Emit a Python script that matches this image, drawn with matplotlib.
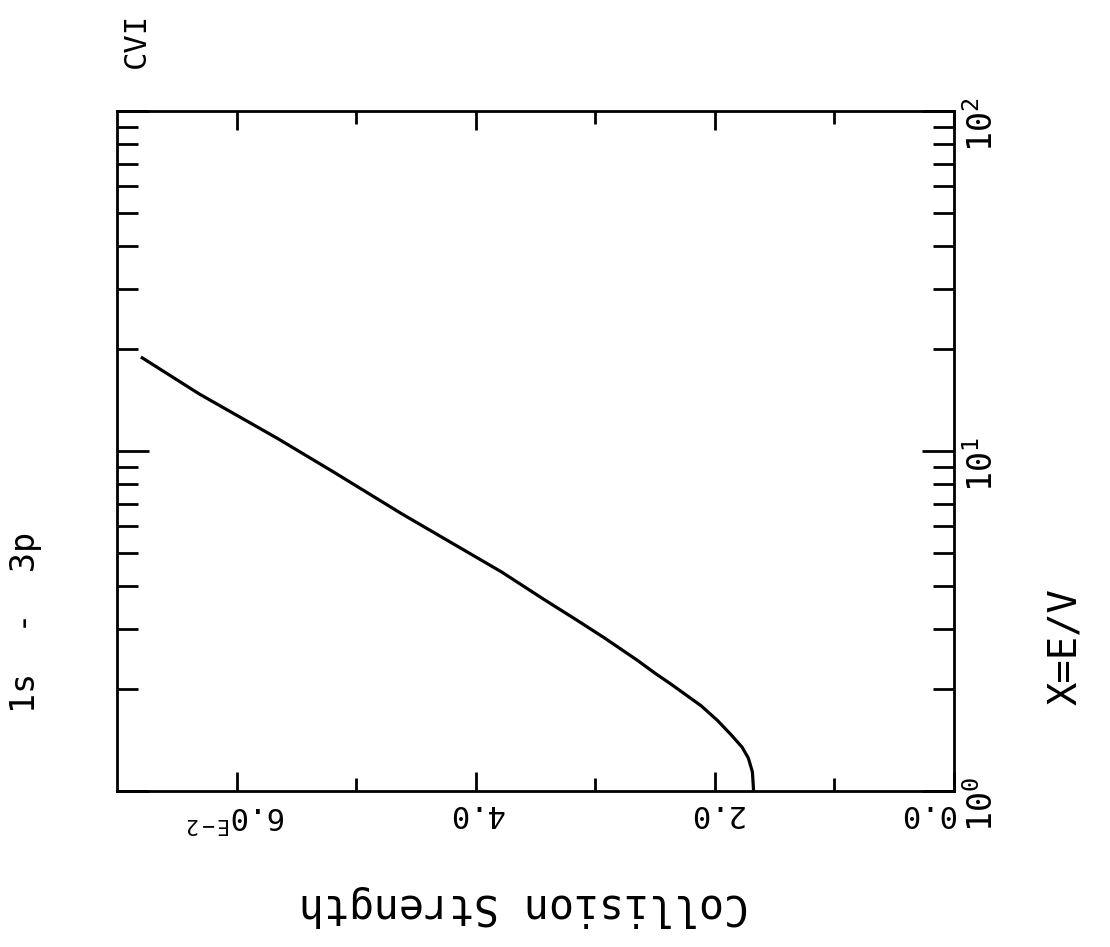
import matplotlib
matplotlib.use("Agg")
import matplotlib.pyplot as plt
from matplotlib.ticker import FixedLocator, NullFormatter

# Collision strength (units of 1e-2) versus X = E/V for C VI 1s - 3p
x_energy = [1.00, 1.138, 1.25, 1.345, 1.458, 1.61, 1.78, 2.06, 2.22, 2.43,
            2.83, 3.19, 3.68, 4.40, 6.54, 8.68, 10.9, 14.7, 18.9]
omega_e2 = [1.676, 1.686, 1.72, 1.772, 1.86, 1.976, 2.114, 2.365, 2.50, 2.653,
            2.93, 3.16, 3.44, 3.78, 4.62, 5.19, 5.66, 6.31, 6.80]

omega_major = [0.0, 2.0, 4.0, 6.0]
omega_minor = [1.0, 3.0, 5.0]
omega_labels = ["0.0", "2.0", "4.0", r"6.0$^{\mathrm{E-2}}$"]

x_major = [1, 10, 100]
x_minor = [2, 3, 4, 5, 6, 7, 8, 9, 20, 30, 40, 50, 60, 70, 80, 90]
x_labels = [r"$10^{0}$", r"$10^{1}$", r"$10^{2}$"]

FONT = "DejaVu Sans Mono"
plt.rcParams["font.family"] = FONT
plt.rcParams["mathtext.fontset"] = "custom"
plt.rcParams["mathtext.rm"] = FONT
plt.rcParams["mathtext.it"] = FONT
plt.rcParams["mathtext.bf"] = FONT

W, H, DPI = 1110, 947, 100
fig = plt.figure(figsize=(W / DPI, H / DPI), dpi=DPI)

# axes box in pixels (the plot is drawn turned a quarter turn: X runs upward)
L, R, T, B = 117, 954, 111, 791
ax = fig.add_axes([L / W, 1 - B / H, (R - L) / W, (B - T) / H])

ax.plot(omega_e2, x_energy, color="black", lw=2.3,
        solid_capstyle="butt", solid_joinstyle="round")

ax.set_xlim(7.0, 0.0)
ax.set_yscale("log")
ax.set_ylim(1, 100)

for s in ax.spines.values():
    s.set_linewidth(2.0)

ax.xaxis.set_major_locator(FixedLocator(omega_major))
ax.xaxis.set_minor_locator(FixedLocator(omega_minor))
ax.set_xticklabels(omega_labels, rotation=180, fontsize=22)
ax.xaxis.set_minor_formatter(NullFormatter())

ax.yaxis.set_major_locator(FixedLocator(x_major))
ax.yaxis.set_minor_locator(FixedLocator(x_minor))
ax.set_yticklabels(x_labels, rotation=90, fontsize=24)
ax.yaxis.set_minor_formatter(NullFormatter())

ax.tick_params(axis="x", which="both", direction="in", top=True, bottom=True,
               labelbottom=True, labeltop=False, width=2.0, pad=6)
ax.tick_params(axis="x", which="major", length=13.5)
ax.tick_params(axis="x", which="minor", length=9.5)
ax.tick_params(axis="y", which="both", direction="in", left=True, right=True,
               labelleft=False, labelright=True, width=2.0, pad=8)
ax.tick_params(axis="y", which="major", length=23)
ax.tick_params(axis="y", which="minor", length=15)

# keep the 0.0 label clear of the 10^0 label beside the corner
ax.xaxis.get_major_ticks()[0].label1.set_horizontalalignment("right")

ax.set_xlabel("Collision Strength", rotation=180, fontsize=30, labelpad=38)
ax.xaxis.label.set_x(0.486)
ax.yaxis.set_label_position("right")
ax.set_ylabel("X=E/V", rotation=90, fontsize=28)
ax.yaxis.set_label_coords(1.133, 0.212)
ax.yaxis.label.set_verticalalignment("center")
ax.yaxis.label.set_horizontalalignment("center")

fig.text(26 / W, 1 - 713 / H, "1s  -  3p", rotation=90, fontsize=24,
         ha="center", va="bottom")
fig.text(136 / W, 1 - 40 / H, "CVI", rotation=90, fontsize=22,
         ha="center", va="center")

fig.savefig("out.png", dpi=DPI)
